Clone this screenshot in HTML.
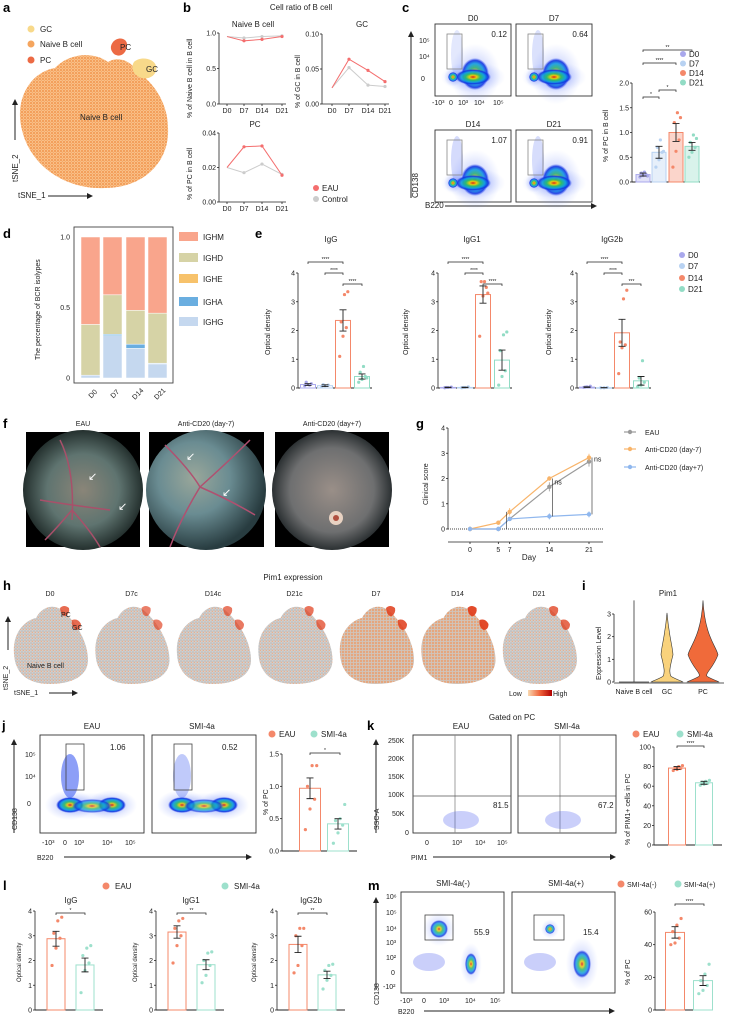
<!DOCTYPE html>
<html><head><meta charset="utf-8"><style>
html,body{margin:0;padding:0;background:#fff;}
svg{display:block;font-family:"Liberation Sans",sans-serif;}
.t{font-size:7px;fill:#222}
.tt{font-size:8px;fill:#222}
.L{font-size:13px;font-weight:bold;fill:#000}
</style></head><body>
<svg id="fig" width="730" height="1016" viewBox="0 0 730 1016" xmlns="http://www.w3.org/2000/svg">
<defs>
<pattern id="orDots" width="3" height="3" patternUnits="userSpaceOnUse"><rect width="3" height="3" fill="#f9c08a"/><circle cx="1" cy="1" r="0.9" fill="#f08a3c"/><circle cx="2.4" cy="2.3" r="0.6" fill="#f5a55e"/></pattern>
<pattern id="grDots" width="3" height="3" patternUnits="userSpaceOnUse"><rect width="3" height="3" fill="#cfcfcf"/><circle cx="1" cy="1" r="0.8" fill="#b9b9b9"/><circle cx="2.3" cy="2.2" r="0.6" fill="#f2a070"/></pattern>
<pattern id="grDots2" width="3" height="3" patternUnits="userSpaceOnUse"><rect width="3" height="3" fill="#d6c0b0"/><circle cx="1" cy="1" r="0.9" fill="#f0945a"/><circle cx="2.3" cy="2.2" r="0.6" fill="#c6c6c6"/></pattern>
<radialGradient id="core" cx="0.5" cy="0.5" r="0.5"><stop offset="0" stop-color="#e01010"/><stop offset="0.2" stop-color="#f5d000"/><stop offset="0.4" stop-color="#30c060"/><stop offset="0.65" stop-color="#10a0e0"/><stop offset="0.85" stop-color="#1030e0"/><stop offset="1" stop-color="#3050f0" stop-opacity="0"/></radialGradient>
<radialGradient id="halo" cx="0.5" cy="0.5" r="0.5"><stop offset="0" stop-color="#2040f0" stop-opacity="0.7"/><stop offset="1" stop-color="#6080ff" stop-opacity="0"/></radialGradient>
<radialGradient id="fundus1" cx="0.5" cy="0.5" r="0.5"><stop offset="0" stop-color="#8a8578"/><stop offset="0.6" stop-color="#5f7470"/><stop offset="1" stop-color="#24302e"/></radialGradient>
<radialGradient id="fundus2" cx="0.4" cy="0.4" r="0.6"><stop offset="0" stop-color="#9aa79a"/><stop offset="0.5" stop-color="#6a8c92"/><stop offset="1" stop-color="#283c40"/></radialGradient>
<radialGradient id="fundus3" cx="0.5" cy="0.5" r="0.5"><stop offset="0" stop-color="#9a8f88"/><stop offset="0.7" stop-color="#6e6f70"/><stop offset="1" stop-color="#2b3032"/></radialGradient>
<linearGradient id="lowhigh" x1="0" x2="1"><stop offset="0" stop-color="#f9d9b0"/><stop offset="0.5" stop-color="#f0623a"/><stop offset="1" stop-color="#b00000"/></linearGradient>
<marker id="arr" markerWidth="6" markerHeight="6" refX="5" refY="3" orient="auto"><path d="M0,0 L6,3 L0,6 Z" fill="#222"/></marker>
</defs>

<!-- Panel letters -->
<g>
<text class="L" x="3" y="12">a</text><text class="L" x="183" y="12">b</text><text class="L" x="402" y="12">c</text>
<text class="L" x="3" y="238">d</text><text class="L" x="255" y="238">e</text>
<text class="L" x="3" y="428">f</text><text class="L" x="416" y="428">g</text>
<text class="L" x="3" y="590">h</text><text class="L" x="582" y="590">i</text>
<text class="L" x="2" y="730">j</text><text class="L" x="367" y="730">k</text>
<text class="L" x="3" y="890">l</text><text class="L" x="368" y="890">m</text>
</g>

<!-- Panel a -->
<g>
<path d="M22,130 C14,100 30,72 55,68 C70,52 95,52 108,62 C118,56 130,60 138,72 C150,80 168,100 168,128 C170,160 145,188 105,188 C65,190 30,165 22,130 Z" fill="url(#orDots)"/>
<path d="M113,42 C118,36 128,38 127,46 C126,54 120,58 114,54 C110,50 110,46 113,42 Z" fill="#ec6a44"/>
<path d="M134,62 C140,56 154,58 156,66 C158,74 150,80 142,78 C134,76 130,68 134,62 Z" fill="#f8d98a"/>
<text class="tt" x="120" y="50">PC</text><text class="tt" x="146" y="72">GC</text>
<text class="tt" x="80" y="120">Naive B cell</text>
<circle cx="31" cy="29" r="3.5" fill="#f8d98a"/><text class="tt" x="40" y="32">GC</text>
<circle cx="31" cy="44" r="3.5" fill="#f5a55e"/><text class="tt" x="40" y="47">Naive B cell</text>
<circle cx="31" cy="60" r="3.5" fill="#ec6a44"/><text class="tt" x="40" y="63">PC</text>
<line x1="15" y1="140" x2="15" y2="100" stroke="#222" marker-end="url(#arr)"/>
<text class="tt" transform="translate(18,182) rotate(-90)">tSNE_2</text>
<text class="tt" x="18" y="198">tSNE_1</text>
<line x1="48" y1="196" x2="92" y2="196" stroke="#222" marker-end="url(#arr)"/>
</g>

<!-- Panel b -->
<g id="pb">
<text class="tt" x="301" y="10" text-anchor="middle">Cell ratio of B cell</text>
<text class="tt" x="253" y="27" text-anchor="middle">Naive B cell</text>
<text class="tt" x="362" y="27" text-anchor="middle">GC</text>
<text class="tt" x="255" y="127" text-anchor="middle">PC</text>
<text class="t" transform="translate(192,118) rotate(-90)">% of Naive B cell in B cell</text>
<text class="t" transform="translate(300,108) rotate(-90)">% of GC in B cell</text>
<text class="t" transform="translate(192,200) rotate(-90)">% of PC in B cell</text>
<circle cx="316" cy="188" r="3" fill="#f46e6e"/><text class="tt" x="322" y="191">EAU</text>
<circle cx="316" cy="199" r="3" fill="#cccccc"/><text class="tt" x="322" y="202">Control</text>
</g>

<!-- Panel c flow -->
<g id="pcflow">
<line x1="411" y1="198" x2="411" y2="32" stroke="#222" marker-end="url(#arr)"/>
<text class="tt" transform="translate(418,198) rotate(-90)">CD138</text>
<text class="tt" x="425" y="208">B220</text>
<line x1="445" y1="206" x2="596" y2="206" stroke="#222" marker-end="url(#arr)"/>
<text class="t" x="419" y="43">10⁵</text><text class="t" x="419" y="59">10⁴</text><text class="t" x="421" y="81">0</text>
<text class="t" x="432" y="105">-10³</text><text class="t" x="449" y="105">0</text><text class="t" x="458" y="105">10³</text><text class="t" x="474" y="105">10⁴</text><text class="t" x="493" y="105">10⁵</text>
</g>

<!-- Panel c bar -->
<g id="pcbar">
<text class="t" transform="translate(608,162) rotate(-90)">% of PC in B cell</text>
</g>

<!-- Panel d -->
<g id="pd">
<text class="t" transform="translate(40,360) rotate(-90)">The percentage of BCR isolypes</text>
</g>

<!-- Panel e -->
<g id="pe">
<text class="tt" x="331" y="242" text-anchor="middle">IgG</text>
<text class="tt" x="472" y="242" text-anchor="middle">IgG1</text>
<text class="tt" x="612" y="242" text-anchor="middle">IgG2b</text>
<text class="t" transform="translate(270,355) rotate(-90)">Optical density</text>
<text class="t" transform="translate(408,355) rotate(-90)">Optical density</text>
<text class="t" transform="translate(551,355) rotate(-90)">Optical density</text>
</g>

<!-- Panel f -->
<g>
<text class="t" x="83" y="426" text-anchor="middle">EAU</text>
<text class="t" x="206" y="426" text-anchor="middle">Anti-CD20 (day-7)</text>
<text class="t" x="332" y="426" text-anchor="middle">Anti-CD20 (day+7)</text>
<rect x="26" y="432" width="114" height="115" fill="#000"/>
<circle cx="83" cy="490" r="60" fill="url(#fundus1)"/>
<path d="M60,440 Q75,470 72,520 M40,500 Q70,505 110,510 M72,510 Q90,530 100,547 M72,510 Q55,530 45,540" stroke="#a8506a" stroke-width="1.5" fill="none"/>
<text x="88" y="480" fill="#fff" font-size="11">↙</text><text x="118" y="510" fill="#fff" font-size="11">↙</text>
<rect x="149" y="432" width="115" height="115" fill="#000"/>
<circle cx="206" cy="490" r="60" fill="url(#fundus2)"/>
<path d="M165,445 Q190,470 200,487 Q230,500 255,515 M200,487 Q180,520 170,547 M200,487 Q230,460 250,440" stroke="#b05070" stroke-width="1.5" fill="none"/>
<text x="186" y="460" fill="#fff" font-size="11">↙</text><text x="222" y="496" fill="#fff" font-size="11">↙</text>
<rect x="275" y="432" width="114" height="115" fill="#000"/>
<circle cx="332" cy="490" r="60" fill="url(#fundus3)"/>
<circle cx="336" cy="518" r="7" fill="#e8d2c2"/><circle cx="336" cy="518" r="3" fill="#b05040"/>
</g>

<!-- Panel g -->
<g id="pg">
<text class="t" transform="translate(428,505) rotate(-90)">Clinical score</text>
<text class="tt" x="529" y="560" text-anchor="middle">Day</text>
</g>

<!-- Panel h -->
<g id="ph">
<text class="tt" x="293" y="580" text-anchor="middle">Pim1 expression</text>
<line x1="8" y1="650" x2="8" y2="617" stroke="#222" marker-end="url(#arr)"/>
<text class="t" transform="translate(8,690) rotate(-90)">tSNE_2</text>
<text class="t" x="14" y="695">tSNE_1</text>
<line x1="49" y1="693" x2="77" y2="693" stroke="#222" marker-end="url(#arr)"/>
<text class="t" x="509" y="696">Low</text>
<rect x="528" y="690" width="24" height="6" fill="url(#lowhigh)"/>
<text class="t" x="553" y="696">High</text>
</g>

<!-- Panel i -->
<g id="pi">
<text class="tt" x="668" y="596" text-anchor="middle">Pim1</text>
<text class="t" transform="translate(601,680) rotate(-90)">Expression Level</text>
</g>

<!-- Panel j -->
<g id="pj">
<text class="tt" x="92" y="729" text-anchor="middle">EAU</text>
<text class="tt" x="202" y="729" text-anchor="middle">SMI-4a</text>
<line x1="14" y1="833" x2="14" y2="740" stroke="#222" marker-end="url(#arr)"/>
<text class="t" transform="translate(17,830) rotate(-90)">CD138</text>
<text class="t" x="25" y="757">10⁵</text><text class="t" x="25" y="779">10⁴</text><text class="t" x="27" y="806">0</text>
<text class="t" x="42" y="845">-10³</text><text class="t" x="63" y="845">0</text><text class="t" x="74" y="845">10³</text><text class="t" x="102" y="845">10⁴</text><text class="t" x="125" y="845">10⁵</text>
<text class="t" x="37" y="860">B220</text>
<line x1="64" y1="857" x2="251" y2="857" stroke="#222" marker-end="url(#arr)"/>
<circle cx="272" cy="734" r="3.5" fill="#f4886a"/><text class="tt" x="279" y="737">EAU</text>
<circle cx="314" cy="734" r="3.5" fill="#9de0cc"/><text class="tt" x="321" y="737">SMI-4a</text>
<text class="t" transform="translate(268,815) rotate(-90)">% of PC</text>
</g>

<!-- Panel k -->
<g id="pk">
<text class="tt" x="512" y="720" text-anchor="middle">Gated on PC</text>
<text class="tt" x="461" y="729" text-anchor="middle">EAU</text>
<text class="tt" x="567" y="729" text-anchor="middle">SMI-4a</text>
<line x1="376" y1="833" x2="376" y2="740" stroke="#222" marker-end="url(#arr)"/>
<text class="t" transform="translate(379,830) rotate(-90)">SSC-A</text>
<text class="t" x="388" y="743">250K</text><text class="t" x="388" y="761">200K</text><text class="t" x="388" y="779">150K</text><text class="t" x="388" y="797">100K</text><text class="t" x="392" y="816">50K</text><text class="t" x="405" y="835">0</text>
<text class="t" x="425" y="845">0</text><text class="t" x="452" y="845">10³</text><text class="t" x="475" y="845">10⁴</text><text class="t" x="497" y="845">10⁵</text>
<text class="t" x="411" y="860">PIM1</text>
<line x1="433" y1="857" x2="615" y2="857" stroke="#222" marker-end="url(#arr)"/>
<circle cx="636" cy="734" r="3.5" fill="#f4886a"/><text class="tt" x="643" y="737">EAU</text>
<circle cx="680" cy="734" r="3.5" fill="#9de0cc"/><text class="tt" x="687" y="737">SMI-4a</text>
<text class="t" transform="translate(630,845) rotate(-90)">% of PIM1+ cells in PC</text>
</g>

<!-- Panel l -->
<g id="pl">
<circle cx="106" cy="886" r="3.5" fill="#f4886a"/><text class="tt" x="115" y="889">EAU</text>
<circle cx="225" cy="886" r="3.5" fill="#9de0cc"/><text class="tt" x="234" y="889">SMI-4a</text>
<text class="tt" x="71" y="903" text-anchor="middle">IgG</text>
<text class="tt" x="191" y="903" text-anchor="middle">IgG1</text>
<text class="tt" x="311" y="903" text-anchor="middle">IgG2b</text>
<text class="t" font-size="6" transform="translate(21,982) rotate(-90)" style="font-size:6px">Optical density</text>
<text class="t" transform="translate(137,982) rotate(-90)" style="font-size:6px">Optical density</text>
<text class="t" transform="translate(256,982) rotate(-90)" style="font-size:6px">Optical density</text>
</g>

<!-- Panel m -->
<g id="pm">
<text class="tt" x="453" y="886" text-anchor="middle">SMI-4a(-)</text>
<text class="tt" x="566" y="886" text-anchor="middle">SMI-4a(+)</text>
<line x1="376" y1="990" x2="376" y2="898" stroke="#222" marker-end="url(#arr)"/>
<text class="t" transform="translate(379,1005) rotate(-90)">CD138</text>
<text class="t" x="386" y="899">10⁶</text><text class="t" x="386" y="915">10⁵</text><text class="t" x="386" y="931">10⁴</text><text class="t" x="386" y="945">10³</text><text class="t" x="386" y="960">10²</text><text class="t" x="391" y="975">0</text><text class="t" x="383" y="989">-10²</text>
<text class="t" x="400" y="1003">-10³</text><text class="t" x="422" y="1003">0</text><text class="t" x="439" y="1003">10³</text><text class="t" x="465" y="1003">10⁴</text><text class="t" x="490" y="1003">10⁵</text>
<text class="t" x="398" y="1014">B220</text>
<line x1="424" y1="1011" x2="614" y2="1011" stroke="#222" marker-end="url(#arr)"/>
<circle cx="621" cy="884" r="3.5" fill="#f4886a"/><text class="t" x="627" y="887">SMI-4a(-)</text>
<circle cx="678" cy="884" r="3.5" fill="#9de0cc"/><text class="t" x="684" y="887">SMI-4a(+)</text>
<text class="t" transform="translate(630,985) rotate(-90)">% of PC</text>
</g>
</svg>

<script>
// ---------- DATA ----------
const bDays = ['D0','D7','D14','D21'];
const bNaiveEAU = [0.95, 0.89, 0.91, 0.95];
const bNaiveCtrl = [0.95, 0.93, 0.95, 0.96];
const bGCEAU = [0.023, 0.064, 0.048, 0.032];
const bGCCtrl = [0.023, 0.052, 0.027, 0.025];
const bPCEAU = [0.020, 0.032, 0.0325, 0.0155];
const bPCCtrl = [0.020, 0.017, 0.022, 0.016];

const cFlowLabels = ['D0','D7','D14','D21'];
const cFlowValues = ['0.12','0.64','1.07','0.91'];
const cCats = ['D0','D7','D14','D21'];
const cMeans = [0.15, 0.60, 1.00, 0.72];
const cErr = [0.03, 0.12, 0.18, 0.08];
const cDots = [[0.10,0.13,0.15,0.18,0.20,0.12],[0.30,0.45,0.60,0.70,0.85,0.62],[0.30,0.62,0.85,1.20,1.40,1.30],[0.50,0.60,0.70,0.80,0.95,0.88]];
const cTicks = [0, 0.5, 1.0, 1.5, 2.0];

const dCats = ['D0','D7','D14','D21'];
const dIsotypes = ['IGHM','IGHD','IGHE','IGHA','IGHG'];
const dIGHG = [0.02, 0.30, 0.21, 0.10];
const dIGHA = [0.00, 0.01, 0.03, 0.005];
const dIGHE = [0.00, 0.00, 0.00, 0.00];
const dIGHD = [0.36, 0.28, 0.24, 0.355];
const dIGHM = [0.62, 0.41, 0.52, 0.54];

const eTicks = [0,1,2,3,4];
const eIgGMeans = [0.12, 0.08, 2.35, 0.40];
const eIgGErr = [0.03, 0.03, 0.37, 0.09];
const eIgGDots = [[0.08,0.12,0.15,0.2,0.1],[0.05,0.08,0.1,0.12],[1.1,1.8,2.1,2.3,3.25,3.35],[0.2,0.3,0.4,0.55,0.75,0.35]];
const eIgG1Means = [0.02, 0.02, 3.25, 0.97];
const eIgG1Err = [0.01, 0.01, 0.30, 0.35];
const eIgG1Dots = [[0.01,0.02,0.03,0.02],[0.01,0.02,0.04,0.02],[1.8,3.2,3.5,3.7,3.7,3.3],[0.1,0.4,0.6,1.3,1.85,1.95]];
const eIgG2bMeans = [0.03, 0.01, 1.92, 0.25];
const eIgG2bErr = [0.01, 0.005, 0.47, 0.15];
const eIgG2bDots = [[0.02,0.04,0.06,0.03],[0.01,0.01,0.02],[0.5,1.4,1.5,1.6,3.1,3.4],[0.05,0.1,0.2,0.35,0.95]];

const gDays = [0, 5, 7, 14, 21];
const gSeriesNames = ['EAU','Anti-CD20 (day-7)','Anti-CD20 (day+7)'];
const gEAU = [0, 0, 0.40, 1.67, 2.67];
const gPre = [0, 0.25, 0.68, 2.00, 2.83];
const gPost = [0, 0, 0.40, 0.50, 0.58];
const gEAUerr = [0, 0, 0.08, 0.18, 0.2];
const gPreErr = [0, 0.08, 0.15, 0.08, 0.15];
const gPostErr = [0, 0, 0.08, 0.12, 0.12];
const gTicks = [0,1,2,3,4];

const hLabels = ['D0','D7c','D14c','D21c','D7','D14','D21'];
const hIntensity = [0.35, 0.15, 0.2, 0.25, 0.55, 0.7, 0.35];

const iCats = ['Naive B cell','GC','PC'];
const iMax = [3.6, 3.05, 3.6];
const iBulge = [0, 0.25, 1.0];

const jCats = ['EAU','SMI-4a'];
const jFlow = ['1.06','0.52'];
const jMeans = [0.97, 0.42];
const jErr = [0.16, 0.08];
const jDots = [[0.33,0.65,0.8,1.0,1.32,1.32],[0.12,0.28,0.4,0.47,0.5,0.72]];
const jTicks = [0, 0.5, 1.0, 1.5];

const kFlow = ['81.5','67.2'];
const kMeans = [78.5, 63.5];
const kErr = [1.5, 1.5];
const kDots = [[76,77,78,79,80,81],[61,62,63,64,65,66]];
const kTicks = [0,20,40,60,80,100];

const lIgGMeans = [2.88, 1.82];
const lIgGErr = [0.30, 0.28];
const lIgGDots = [[1.8,2.5,2.9,3.1,3.6,3.75],[0.7,1.6,1.9,2.2,2.5,2.6]];
const lIgG1Means = [3.15, 1.83];
const lIgG1Err = [0.25, 0.20];
const lIgG1Dots = [[1.9,2.6,3.0,3.3,3.6,3.7],[1.1,1.4,1.8,2.0,2.3,2.35]];
const lIgG2bMeans = [2.65, 1.42];
const lIgG2bErr = [0.33, 0.15];
const lIgG2bDots = [[1.5,1.8,2.6,3.0,3.3,3.3],[0.85,1.2,1.4,1.6,1.8,1.85]];
const lTicks = [0,1,2,3,4];

const mFlow = ['55.9','15.4'];
const mMeans = [47.5, 18.0];
const mErr = [3.5, 3.0];
const mDots = [[40,41,44,48,52,56],[10,12,15,18,22,28]];
const mTicks = [0,20,40,60];

// ---------- HELPERS ----------
const NS = 'http://www.w3.org/2000/svg';
function mk(tag, attrs, parent){ const e=document.createElementNS(NS,tag); for(const k in attrs) e.setAttribute(k,attrs[k]); parent.appendChild(e); return e; }
function lin(d0,d1,r0,r1){ return v => r0 + (v-d0)/(d1-d0)*(r1-r0); }

function yAxis(g, x, y, ticks, fmt, name){
  const ax = mk('line',{x1:x,y1:y(ticks[0]),x2:x,y2:y(ticks[ticks.length-1]),stroke:'#222','stroke-width':0.8},g);
  
  
  ticks.forEach(t=>{
    mk('line',{x1:x-2,y1:y(t),x2:x,y2:y(t),stroke:'#222','stroke-width':0.8},g);
    const tx = mk('text',{x:x-3,y:y(t)+2.5,'text-anchor':'end',class:'t'},g);
    tx.textContent = fmt(t);
    
    
  });
}

function barChart(g, name, cx, bw, y, means, errs, dots, colors, fillOp, x0, x1){
  mk('line',{x1:x0,y1:y(0),x2:x1,y2:y(0),stroke:'#222','stroke-width':0.9},g);
  means.forEach((m,i)=>{
    const r = mk('rect',{x:cx[i]-bw/2,y:y(m),width:bw,height:Math.max(0.5,y(0)-y(m)),fill:colors[i],'fill-opacity':fillOp,stroke:colors[i],'stroke-width':1},g);
    
    
    dots[i].forEach((d,j)=>{
      const c = mk('circle',{cx:cx[i]+((j%3)-1)*bw*0.22+(j>2?bw*0.1:0),cy:y(d),r:1.6,fill:colors[i]},g);
      
      
    });
    const e = mk('path',{d:`M${cx[i]},${y(m-errs[i])}V${y(m+errs[i])}M${cx[i]-3.5},${y(m-errs[i])}h7M${cx[i]-3.5},${y(m+errs[i])}h7`,stroke:'#222','stroke-width':0.9,fill:'none'},g);
    
    
  });
}
function sig(g, xa, xb, yy, label){
  mk('path',{d:`M${xa},${yy+2}V${yy}H${xb}V${yy+2}`,stroke:'#222','stroke-width':0.7,fill:'none'},g);
  const t = mk('text',{x:(xa+xb)/2,y:yy-1,'text-anchor':'middle',style:'font-size:5px',fill:'#222'},g);
  t.textContent = label;
  
  
}
function flowBox(g, x, y, w, h, name){
  const b = mk('rect',{x:x,y:y,width:w,height:h,fill:'#fff',stroke:'#333','stroke-width':0.9},g);
  
  
}
function blob(g, cx, cy, rx, ry, op){
  mk('ellipse',{cx:cx,cy:cy,rx:rx*1.8,ry:ry*1.9,fill:'url(#halo)',opacity:op*0.6},g);
  mk('ellipse',{cx:cx,cy:cy,rx:rx,ry:ry,fill:'url(#core)',opacity:op},g);
}

// ---------- PANEL B ----------
(function(){
  const g = document.getElementById('pb');
  const xs = [227,244,262,282], xs2 = [332,349,368,385];
  const subs = [
    {x:xs, ax:219, y:lin(0,1,104,33), ticks:[0,0.5,1.0], f:v=>v.toFixed(1), e:bNaiveEAU, c:bNaiveCtrl, n:'naive', yb:104},
    {x:xs2, ax:322, y:lin(0,0.10,104,34), ticks:[0,0.05,0.10], f:v=>v.toFixed(2), e:bGCEAU, c:bGCCtrl, n:'gc', yb:104},
    {x:xs, ax:219, y:lin(0,0.04,202,133), ticks:[0,0.02,0.04], f:v=>v.toFixed(2), e:bPCEAU, c:bPCCtrl, n:'pc', yb:202}
  ];
  subs.forEach(s=>{
    yAxis(g, s.ax, s.y, s.ticks, s.f, 'b-'+s.n);
    mk('line',{x1:s.ax,y1:s.yb,x2:s.x[3]+4,y2:s.yb,stroke:'#222','stroke-width':0.8},g);
    bDays.forEach((d,i)=>{
      mk('line',{x1:s.x[i],y1:s.yb,x2:s.x[i],y2:s.yb+2,stroke:'#222','stroke-width':0.8},g);
      const t = mk('text',{x:s.x[i],y:s.yb+9,'text-anchor':'middle',class:'t'},g);
      t.textContent = d;
      
      
    });
    [[s.c,'#cccccc','control'],[s.e,'#f46e6e','eau']].forEach(([vals,col,nm])=>{
      const p = mk('polyline',{points:vals.map((v,i)=>s.x[i]+','+s.y(v)).join(' '),fill:'none',stroke:col,'stroke-width':1},g);
      
      
      vals.forEach((v,i)=>{ if(i>0){
        const c = mk('circle',{cx:s.x[i],cy:s.y(v),r:1.6,fill:col},g);
        
        
      }});
    });
  });
})();

// ---------- PANEL C ----------
(function(){
  const g = document.getElementById('pcflow');
  const boxes = [[435,24],[516,24],[435,130],[516,130]];
  cFlowLabels.forEach((lab,i)=>{
    const [x,y] = boxes[i];
    flowBox(g,x,y,76,72,'c-flow-plot-'+lab);
    const t = mk('text',{x:x+38,y:y-3,'text-anchor':'middle',class:'tt'},g);
    t.textContent = lab;
    
    
    const sp = 0.5 + parseFloat(cFlowValues[i])*0.3;
    mk('ellipse',{cx:x+22,cy:y+30,rx:6,ry:24,fill:'#3050f0',opacity:0.25*sp},g);
    blob(g,x+40,y+50,14,16,0.9);
    blob(g,x+38,y+53,18,8,0.9);
    blob(g,x+18,y+53,5,5,0.9);
    mk('rect',{x:x+12,y:y+10,width:15,height:35,fill:'none',stroke:'#888','stroke-width':0.8},g);
    const v = mk('text',{x:x+72,y:y+13,'text-anchor':'end',class:'tt'},g);
    v.textContent = cFlowValues[i];
    
    
  });
  const gb = document.getElementById('pcbar');
  const y = lin(0,2.0,182,83);
  yAxis(gb, 632, y, cTicks, v=>v.toFixed(1), 'c-bar');
  const cols = ['#a9a8ec','#b8d2f2','#f4886a','#92dcc5'];
  barChart(gb,'c-bar',[643,659,676,692],14,y,cMeans,cErr,cDots,cols,0.35,632,700);
  sig(gb,643,692,50,'**'); sig(gb,643,676,63,'****'); sig(gb,659,676,90,'*'); sig(gb,643,659,97,'*');
  cCats.forEach((c,i)=>{
    const d = mk('circle',{cx:683,cy:54+i*9.5,r:3,fill:cols[i]},gb);
    
    
    const t = mk('text',{x:689,y:57+i*9.5,class:'tt'},gb);
    t.textContent = c;
    
    
  });
})();

// ---------- PANEL D ----------
(function(){
  const g = document.getElementById('pd');
  const y = lin(0,1,378,237);
  mk('rect',{x:74,y:227,width:99,height:156,fill:'none',stroke:'#444','stroke-width':0.9},g);
  [[0,'0'],[0.5,'0.5'],[1,'1.0']].forEach(([v,l])=>{
    const t = mk('text',{x:70,y:y(v)+2.5,'text-anchor':'end',class:'t'},g);
    t.textContent = l;
    
    
  });
  const layers = [dIGHG,dIGHA,dIGHE,dIGHD,dIGHM];
  const lcols = ['#c5d8ef','#6aaee0','#f7c26b','#d6d3a6','#f9a58c'];
  const xs = [81,103,126,148];
  dCats.forEach((c,i)=>{
    let acc = 0;
    layers.forEach((L,k)=>{
      const v = L[i];
      if(v>0){
        const r = mk('rect',{x:xs[i],y:y(acc+v),width:19,height:y(acc)-y(acc+v),fill:lcols[k],stroke:'#fff','stroke-width':0.5},g);
        
        
      }
      acc += v;
    });
    const t = mk('text',{x:xs[i]+12,y:396,'text-anchor':'middle',class:'t',transform:`rotate(-45 ${xs[i]+12} 394)`},g);
    t.textContent = c;
    
    
  });
  const ly = [237,258,279,302,322];
  const names = ['IGHM','IGHD','IGHE','IGHA','IGHG'];
  const ncols = ['#f9a58c','#d6d3a6','#f7c26b','#6aaee0','#c5d8ef'];
  names.forEach((n,i)=>{
    const r = mk('rect',{x:179,y:ly[i]-5,width:19,height:9,fill:ncols[i]},g);
    
    
    const t = mk('text',{x:203,y:ly[i]+3,class:'tt'},g);
    t.textContent = n;
    
    
  });
})();

// ---------- PANEL E ----------
(function(){
  const g = document.getElementById('pe');
  const y = lin(0,4,388,273);
  const cols = ['#a9a8ec','#b8d2f2','#f4886a','#92dcc5'];
  const sets = [[298,eIgGMeans,eIgGErr,eIgGDots,'e-igg'],[438,eIgG1Means,eIgG1Err,eIgG1Dots,'e-igg1'],[577,eIgG2bMeans,eIgG2bErr,eIgG2bDots,'e-igg2b']];
  sets.forEach(([ax,m,e,d,n])=>{
    yAxis(g, ax, y, eTicks, v=>String(v), n);
    const cx = [ax+10,ax+27,ax+45,ax+64];
    barChart(g,n,cx,15,y,m,e,d,cols,0.0,ax,ax+74);
    sig(g,cx[0],cx[2],262,'****'); sig(g,cx[1],cx[2],273,'****'); sig(g,cx[2],cx[3],284,n==='e-igg2b'?'***':'****');
  });
  const ly = [255,266,278,289];
  ['D0','D7','D14','D21'].forEach((c,i)=>{
    const d = mk('circle',{cx:682,cy:ly[i],r:3,fill:cols[i]},g);
    
    
    const t = mk('text',{x:688,y:ly[i]+3,class:'tt'},g);
    t.textContent = c;
    
    
  });
})();

// ---------- PANEL G ----------
(function(){
  const g = document.getElementById('pg');
  const y = lin(0,4,529,428);
  const x = lin(0,21,470,589);
  yAxis(g, 448, y, gTicks, v=>String(v), 'g');
  mk('line',{x1:448,y1:542,x2:603,y2:542,stroke:'#222','stroke-width':0.8},g);
  mk('line',{x1:448,y1:y(0),x2:603,y2:y(0),stroke:'#444','stroke-width':1,'stroke-dasharray':'1,1'},g);
  gDays.forEach(d=>{
    mk('line',{x1:x(d),y1:542,x2:x(d),y2:544,stroke:'#222','stroke-width':0.8},g);
    const t = mk('text',{x:x(d),y:552,'text-anchor':'middle',class:'t'},g);
    t.textContent = d;
    
    
  });
  const series = [[gEAU,gEAUerr,'#9a9a9a','eau'],[gPre,gPreErr,'#f8b46a','anti-cd20-pre'],[gPost,gPostErr,'#8fb7ee','anti-cd20-post']];
  series.forEach(([vals,errs,col,n])=>{
    const p = mk('polyline',{points:vals.map((v,i)=>x(gDays[i])+','+y(v)).join(' '),fill:'none',stroke:col,'stroke-width':1.2},g);
    
    
    vals.forEach((v,i)=>{
      mk('path',{d:`M${x(gDays[i])},${y(v-errs[i])}V${y(v+errs[i])}`,stroke:col,'stroke-width':0.8},g);
      const c = mk('circle',{cx:x(gDays[i]),cy:y(v),r:2.2,fill:col},g);
      
      
    });
  });
  mk('line',{x1:x(14)+3,y1:y(gPre[3]),x2:x(14)+3,y2:y(gPost[3]),stroke:'#222','stroke-width':0.6},g);
  mk('line',{x1:x(21)+3,y1:y(gPre[4]),x2:x(21)+3,y2:y(gPost[4]),stroke:'#222','stroke-width':0.6},g);
  mk('line',{x1:x(7)-3,y1:y(gPre[2]),x2:x(7)-3,y2:y(0),stroke:'#222','stroke-width':0.6},g);
  [[x(21)+5,y(2.75)+2,'ns'],[x(14)+5,y(1.85)+2,'ns']].forEach(([a,b,s])=>{
    const t = mk('text',{x:a,y:b,class:'t'},g); t.textContent = s;
    
    
  });
  const ly = [432,449,467];
  const cols = ['#9a9a9a','#f8b46a','#8fb7ee'];
  gSeriesNames.forEach((n,i)=>{
    mk('line',{x1:624,y1:ly[i],x2:636,y2:ly[i],stroke:cols[i],'stroke-width':1.2},g);
    const d = mk('circle',{cx:630,cy:ly[i],r:2.2,fill:cols[i]},g);
    
    
    const t = mk('text',{x:645,y:ly[i]+3,class:'t'},g);
    t.textContent = n;
    
    
  });
})();

// ---------- PANEL H ----------
(function(){
  const g = document.getElementById('ph');
  hLabels.forEach((lab,i)=>{
    const x0 = 12 + i*81.5;
    const t = mk('text',{x:x0+38,y:596,'text-anchor':'middle',class:'t'},g);
    t.textContent = lab;
    
    
    const fill = hIntensity[i] > 0.5 ? 'url(#grDots2)' : 'url(#grDots)';
    const p = mk('path',{d:`M${x0+2},${x0?654:654} C${x0},632 ${x0+14},620 ${x0+24},618 C${x0+30},606 ${x0+42},604 ${x0+50},610 C${x0+62},620 ${x0+76},640 ${x0+76},660 C${x0+76},676 ${x0+60},684 ${x0+38},684 C${x0+14},684 ${x0+3},672 ${x0+2},654 Z`,fill:fill},g);
    
    
    const red = mk('path',{d:`M${x0+48},608 q4,-4 9,0 q1,5 -3,8 q-5,1 -6,-8 M${x0+60},620 q6,-2 9,4 q0,6 -5,6 q-5,-3 -4,-10`,fill:'#e0401f',opacity:0.6+hIntensity[i]*0.5},g);
    
    
  });
  [['PC',61,617],['GC',72,630],['Naive B cell',27,668]].forEach(([s,a,b])=>{
    const t = mk('text',{x:a,y:b,class:'t'},g); t.textContent = s;
    
    
  });
})();

// ---------- PANEL I ----------
(function(){
  const g = document.getElementById('pi');
  const y = lin(0,3,682,614);
  yAxis(g, 614, y, [0,1,2,3], v=>String(v), 'i');
  mk('line',{x1:614,y1:y(0)+1,x2:724,y2:y(0)+1,stroke:'#222','stroke-width':0.8},g);
  const cx = [634,667,703];
  const cols = ['#999','#f9d27c','#f06a3a'];
  iCats.forEach((c,i)=>{
    if(i===0){
      mk('line',{x1:cx[i],y1:y(0),x2:cx[i],y2:y(iMax[i]),stroke:'#333','stroke-width':0.8},g);
      mk('line',{x1:cx[i]-15,y1:y(0),x2:cx[i]+15,y2:y(0),stroke:'#333','stroke-width':0.8},g);
    } else {
      const w = 16, b = iBulge[i];
      const top = y(iMax[i]);
      const d = `M${cx[i]},${top} C${cx[i]+2},${y(2)} ${cx[i]+3+b*10},${y(1.6)} ${cx[i]+3+b*12},${y(1.2)} C${cx[i]+b*10},${y(0.6)} ${cx[i]+2},${y(0.4)} ${cx[i]+4},${y(0.25)} C${cx[i]+10},${y(0.1)} ${cx[i]+w},${y(0.02)} ${cx[i]+w},${y(0)} L${cx[i]-w},${y(0)} C${cx[i]-w},${y(0.02)} ${cx[i]-10},${y(0.1)} ${cx[i]-4},${y(0.25)} C${cx[i]-2},${y(0.4)} ${cx[i]-b*10},${y(0.6)} ${cx[i]-3-b*12},${y(1.2)} C${cx[i]-3-b*10},${y(1.6)} ${cx[i]-2},${y(2)} ${cx[i]},${top} Z`;
      const p = mk('path',{d:d,fill:cols[i],stroke:'#333','stroke-width':0.6},g);
      
      
    }
    const t = mk('text',{x:cx[i],y:694,'text-anchor':'middle',class:'t'},g);
    t.textContent = c;
    
    
  });
})();

// ---------- PANEL J ----------
(function(){
  const g = document.getElementById('pj');
  const boxes = [40,152];
  jFlow.forEach((v,i)=>{
    const x = boxes[i];
    flowBox(g,x,735,104,98,'j-flow-plot-'+jCats[i]);
    mk('ellipse',{cx:x+30,cy:776,rx:9,ry:22,fill:'#3050f0',opacity:i?0.3:0.55},g);
    blob(g,x+30,805,14,8,0.95); blob(g,x+72,805,14,8,0.95); blob(g,x+52,806,20,7,0.7);
    mk('rect',{x:x+(i?22:26),y:744,width:18,height:46,fill:'none',stroke:'#444','stroke-width':0.8},g);
    const t = mk('text',{x:x+70,y:750,class:'tt'},g);
    t.textContent = v;
    
    
  });
  const y = lin(0,1.5,851,754);
  yAxis(g, 282, y, jTicks, v=>v.toFixed(1), 'j-bar');
  barChart(g,'j-bar',[310,338],21,y,jMeans,jErr,jDots,['#f4886a','#9de0cc'],0.0,282,357);
  sig(g,310,340,753,'*');
})();

// ---------- PANEL K ----------
(function(){
  const g = document.getElementById('pk');
  const boxes = [[413,455],[518,560]];
  kFlow.forEach((v,i)=>{
    const [x,vx] = boxes[i];
    flowBox(g,x,735,98,98,'k-flow-plot');
    mk('line',{x1:vx,y1:735,x2:vx,y2:833,stroke:'#888','stroke-width':0.8},g);
    mk('line',{x1:x,y1:796,x2:x+98,y2:796,stroke:'#555','stroke-width':0.8},g);
    mk('ellipse',{cx:vx+(i?3:6),cy:820,rx:18,ry:9,fill:'#5060f0',opacity:0.3},g);
    const t = mk('text',{x:x+80,y:808,class:'tt'},g);
    t.textContent = v;
    
    
  });
  const y = lin(0,100,845,747);
  yAxis(g, 654, y, kTicks, v=>String(v), 'k-bar');
  barChart(g,'k-bar',[677,704],17,y,kMeans,kErr,kDots,['#f4886a','#9de0cc'],0.0,654,722);
  sig(g,677,704,746,'****');
})();

// ---------- PANEL L ----------
(function(){
  const g = document.getElementById('pl');
  const y = lin(0,4,1010,911);
  const sets = [[35,lIgGMeans,lIgGErr,lIgGDots,'l-igg','*'],[156,lIgG1Means,lIgG1Err,lIgG1Dots,'l-igg1','**'],[277,lIgG2bMeans,lIgG2bErr,lIgG2bDots,'l-igg2b','**']];
  sets.forEach(([ax,m,e,d,n,s])=>{
    yAxis(g, ax, y, lTicks, v=>String(v), n);
    const cx = [ax+21,ax+50];
    barChart(g,n,cx,18,y,m,e,d,['#f4886a','#9de0cc'],0.0,ax,ax+68);
    sig(g,cx[0],cx[1],913,s);
  });
})();

// ---------- PANEL M ----------
(function(){
  const g = document.getElementById('pm');
  const boxes = [401,512];
  mFlow.forEach((v,i)=>{
    const x = boxes[i];
    flowBox(g,x,892,103,101,'m-flow-plot');
    mk('ellipse',{cx:x+28,cy:962,rx:16,ry:9,fill:'#5060f0',opacity:0.3},g);
    blob(g,x+70,964,(i?9:6),(i?14:11),0.8);
    blob(g,x+(i?38:38),929,(i?5:9),(i?5:9),0.8);
    mk('rect',{x:x+(i?22:24),y:915,width:(i?30:28),height:25,fill:'none',stroke:'#444','stroke-width':0.8},g);
    const t = mk('text',{x:x+(i?71:73),y:935,class:'tt'},g);
    t.textContent = v;
    
    
  });
  const y = lin(0,60,1010,912);
  yAxis(g, 655, y, mTicks, v=>String(v), 'm-bar');
  barChart(g,'m-bar',[675,703],19,y,mMeans,mErr,mDots,['#f4886a','#9de0cc'],0.0,655,712);
  sig(g,675,704,904,'****');
})();
</script>
</body></html>
